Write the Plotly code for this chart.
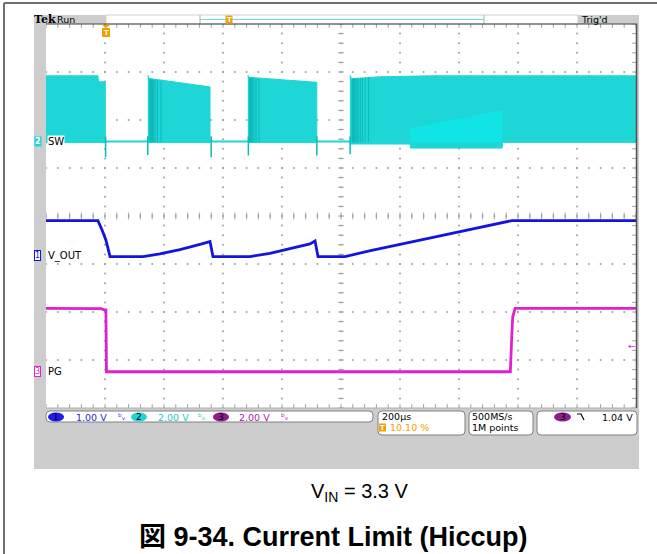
import plotly.graph_objects as go

W, H = 657, 554

# ---------------- acquisition settings ----------------
T_START, T_END = -200, 1800          # µs, 200 µs/div, trigger at 10.10 %
CH1_SCALE, CH1_POS = 1.0, -0.81      # V_OUT  (V/div, position in div)
CH2_SCALE, CH2_POS = 2.0, 1.56       # SW
CH3_SCALE, CH3_POS = 2.0, -3.23      # PG
TRIG_LEVEL = 1.04                    # V on CH3

# ---------------- V_OUT (CH1) ----------------
VOUT_T = [-200, -24, -10, 3, 17, 129, 186, 254, 322, 356, 366, 491, 559, 627, 695, 712, 722, 814, 900, 1100, 1300, 1380, 1800]
VOUT_V = [0.715, 0.715, 0.52, 0.31, -0.035, -0.035, 0.02, 0.11, 0.22, 0.277, -0.035, -0.035, 0.03, 0.13, 0.23, 0.29, -0.035, -0.035, 0.09, 0.35, 0.61, 0.715, 0.715]

# ---------------- PG (CH3) ----------------
PG_T = [-200, -13, -3, 3, 5, 1374, 1378, 1382, 1390, 1800]
PG_V = [2.61, 2.60, 2.55, 2.55, -0.03, -0.03, 1.2, 2.25, 2.61, 2.61]

# ---------------- SW (CH2) switching bursts: envelopes ----------------
SW_HI_T = [[-200, -24, -22, 1], [145, 150, 356], [484, 488, 718], [830, 836, 930, 1100, 1800]]
SW_HI_V = [[2.72, 2.72, 2.47, 2.47], [2.75, 2.61, 2.26], [2.75, 2.66, 2.45], [2.75, 2.60, 2.68, 2.72, 2.72]]
SW_LO_T = [[-200, 1], [145, 356], [484, 718], [830, 1034, 1036, 1346, 1348, 1800]]
SW_LO_V = [[-0.06, -0.06], [-0.06, -0.06], [-0.06, -0.06], [-0.12, -0.12, -0.29, -0.29, -0.05, -0.05]]
SW_SPIKE_T = [2, 145, 360, 486, 718, 831]
SW_SPIKE_LOW = [-0.67, -0.58, -0.67, -0.60, -0.60, -0.55]
SW_STRIPE_T = [152, 155, 158, 161, 165, 170, 178, 190,
               490, 493, 496, 500, 505, 512, 522,
               838, 841, 844, 847, 851, 855, 860, 866, 873, 882, 893]
SW_STRIPE_TOP = [2.58, 2.58, 2.57, 2.57, 2.56, 2.55, 2.54, 2.52,
                 2.64, 2.64, 2.63, 2.63, 2.62, 2.62, 2.61,
                 2.60, 2.60, 2.60, 2.61, 2.61, 2.62, 2.62, 2.63, 2.64, 2.65, 2.66]
SW_BRIGHT_T = [1034, 1346]
SW_BRIGHT_TOP = [0.55, 1.29]
SW_BRIGHT_BOT = [-0.05, -0.05]

CYAN = '#1ED6D6'
BLUE = '#1414E0'
MAG = '#E020D0'
ORANGE = '#F2A000'


def ch(vals, scale, pos):
    return [v / scale + pos for v in vals]


def X(p):
    return p / W


def Y(p):
    return 1 - p / H


fig = go.Figure()

# ---------- graticule dots ----------
gx, gy = [], []
for i in range(1, 10):
    t = T_START + 200 * i
    for k in range(41):
        gx.append(t); gy.append(-4 + 0.2 * k)
for j in range(1, 8):
    yv = -4 + j
    for k in range(51):
        gx.append(T_START + 40 * k); gy.append(yv)
fig.add_trace(go.Scatter(x=gx, y=gy, mode='markers', marker=dict(size=2, color='#A0A0A0'),
                         hoverinfo='skip'))

# ticks on centre lines and edges
tx, ty = [], []
for k in range(51):
    t = T_START + 40 * k
    tx += [t, t, None]; ty += [-0.07, 0.07, None]
    tx += [t, t, None]; ty += [4, 3.92, None]
    tx += [t, t, None]; ty += [-4, -3.92, None]
for k in range(41):
    yv = -4 + 0.2 * k
    tx += [790, 810, None]; ty += [yv, yv, None]
    tx += [T_END, T_END - 13, None]; ty += [yv, yv, None]
fig.add_trace(go.Scatter(x=tx, y=ty, mode='lines', line=dict(color='#A0A0A0', width=1),
                         hoverinfo='skip'))

# ---------- SW ----------
fig.add_trace(go.Scatter(x=[T_START, T_END], y=ch([-0.02, -0.02], CH2_SCALE, CH2_POS), mode='lines',
                         line=dict(color=CYAN, width=2), hoverinfo='skip'))
for ht, hv, lt, lv in zip(SW_HI_T, SW_HI_V, SW_LO_T, SW_LO_V):
    xs = list(ht) + list(reversed(lt))
    ys = ch(list(hv) + list(reversed(lv)), CH2_SCALE, CH2_POS)
    fig.add_trace(go.Scatter(x=xs, y=ys, mode='lines', fill='toself', fillcolor=CYAN,
                             line=dict(color=CYAN, width=1), hoverinfo='skip'))
bx = SW_BRIGHT_T + list(reversed(SW_BRIGHT_T))
by = ch(SW_BRIGHT_TOP + list(reversed(SW_BRIGHT_BOT)), CH2_SCALE, CH2_POS)
fig.add_trace(go.Scatter(x=bx, y=by, mode='lines', fill='toself', fillcolor='#10E4E4',
                         line=dict(width=0, color='#10E4E4'), hoverinfo='skip'))
sx, sy = [], []
for t, top in zip(SW_STRIPE_T, SW_STRIPE_TOP):
    sx += [t, t, None]; sy += ch([top, -0.05], CH2_SCALE, CH2_POS) + [None]
fig.add_trace(go.Scatter(x=sx, y=sy, mode='lines', line=dict(color='rgba(0,150,150,0.45)', width=1),
                         hoverinfo='skip'))
kx, ky = [], []
for t, lo in zip(SW_SPIKE_T, SW_SPIKE_LOW):
    kx += [t, t, None]; ky += ch([0.2, lo], CH2_SCALE, CH2_POS) + [None]
fig.add_trace(go.Scatter(x=kx, y=ky, mode='lines', line=dict(color='#10B8B8', width=1.5),
                         hoverinfo='skip'))

# ---------- V_OUT ----------
fig.add_trace(go.Scatter(x=VOUT_T, y=ch(VOUT_V, CH1_SCALE, CH1_POS), mode='lines',
                         line=dict(color=BLUE, width=2.8), hoverinfo='skip'))
# ---------- PG ----------
fig.add_trace(go.Scatter(x=PG_T, y=ch(PG_V, CH3_SCALE, CH3_POS), mode='lines',
                         line=dict(color=MAG, width=2.8), hoverinfo='skip'))

shapes = []
# outer frame
shapes.append(dict(type='line', xref='paper', yref='paper', x0=X(4), x1=X(657), y0=Y(3), y1=Y(3),
                   line=dict(color='#707070', width=2)))
shapes.append(dict(type='line', xref='paper', yref='paper', x0=X(4), x1=X(4), y0=Y(3), y1=Y(554),
                   line=dict(color='#707070', width=2)))
# scope screen background
shapes.append(dict(type='rect', xref='paper', yref='paper', x0=X(34), x1=X(639), y0=Y(15), y1=Y(469),
                   fillcolor='#CDCDCD', line=dict(width=0), layer='below'))
shapes.append(dict(type='rect', xref='paper', yref='paper', x0=X(46), x1=X(636), y0=Y(24), y1=Y(408),
                   fillcolor='white', line=dict(width=0), layer='below'))
# top bar
shapes.append(dict(type='rect', xref='paper', yref='paper', x0=X(106), x1=X(578), y0=Y(15), y1=Y(24),
                   fillcolor='white', line=dict(color='#D0D0D0', width=1), layer='below'))
for xx in (200, 484):
    shapes.append(dict(type='line', xref='paper', yref='paper', x0=X(xx), x1=X(xx), y0=Y(15), y1=Y(24),
                       line=dict(color='#B0B0B0', width=1)))
shapes.append(dict(type='line', xref='paper', yref='paper', x0=X(200), x1=X(484), y0=Y(19.5), y1=Y(19.5),
                   line=dict(color='#6ADCDC', width=1.2)))
# graticule border
shapes.append(dict(type='line', xref='paper', yref='paper', x0=X(46), x1=X(637), y0=Y(24), y1=Y(24),
                   line=dict(color='#404040', width=1.2)))
shapes.append(dict(type='line', xref='paper', yref='paper', x0=X(636.5), x1=X(636.5), y0=Y(24), y1=Y(408),
                   line=dict(color='#505050', width=1.5)))
shapes.append(dict(type='line', xref='paper', yref='paper', x0=X(46), x1=X(636), y0=Y(408), y1=Y(408),
                   line=dict(color='#B0B0B0', width=1)))


def rrect(x0, y0, x1, y1, r=4, fill='white', line='#808080'):
    p = (f"M {X(x0+r)},{Y(y0)} L {X(x1-r)},{Y(y0)} Q {X(x1)},{Y(y0)} {X(x1)},{Y(y0+r)} "
         f"L {X(x1)},{Y(y1-r)} Q {X(x1)},{Y(y1)} {X(x1-r)},{Y(y1)} L {X(x0+r)},{Y(y1)} "
         f"Q {X(x0)},{Y(y1)} {X(x0)},{Y(y1-r)} L {X(x0)},{Y(y0+r)} Q {X(x0)},{Y(y0)} {X(x0+r)},{Y(y0)} Z")
    return dict(type='path', xref='paper', yref='paper', path=p, fillcolor=fill,
                line=dict(color=line, width=1))


shapes += [rrect(46, 411, 373, 422), rrect(378, 411, 465, 435), rrect(469, 411, 533, 435),
           rrect(537, 411, 637, 435)]


def ell(x0, x1, y0, y1, col):
    return dict(type='circle', xref='paper', yref='paper', x0=X(x0), x1=X(x1), y0=Y(y0), y1=Y(y1),
                fillcolor=col, line=dict(width=0))


shapes += [ell(48, 64, 412.5, 421.5, '#1E1EE6'), ell(131, 147, 412.5, 421.5, '#22D4D4'),
           ell(213, 229, 412.5, 421.5, '#8E1C8E'), ell(554, 571, 412.5, 421.5, '#8E1C8E')]
# falling-edge trigger symbol
shapes.append(dict(type='path', xref='paper', yref='paper',
                   path=f"M {X(577)},{Y(414)} L {X(581)},{Y(414)} L {X(584)},{Y(420)}",
                   line=dict(color='black', width=1.2)))
# trigger T marker at top of graticule
shapes.append(dict(type='path', xref='paper', yref='paper',
                   path=f"M {X(102)},{Y(25)} L {X(110)},{Y(25)} L {X(106)},{Y(28)} Z",
                   fillcolor=ORANGE, line=dict(width=0)))
shapes.append(dict(type='rect', xref='paper', yref='paper', x0=X(102), x1=X(110), y0=Y(28), y1=Y(37),
                   fillcolor=ORANGE, line=dict(width=0)))
shapes.append(dict(type='rect', xref='paper', yref='paper', x0=X(225.5), x1=X(232.5), y0=Y(15.5), y1=Y(23.5),
                   fillcolor=ORANGE, line=dict(width=0)))
shapes.append(dict(type='rect', xref='paper', yref='paper', x0=X(379), x1=X(386), y0=Y(423.5), y1=Y(431.5),
                   fillcolor=ORANGE, line=dict(width=0)))

ann = []


def txt(x, y, s, size=9.5, color='black', anchor='left', family='DejaVu Sans', bg=None, border=None):
    d = dict(xref='paper', yref='paper', x=X(x), y=Y(y), text=s, showarrow=False, xanchor=anchor,
             yanchor='middle', font=dict(size=size, color=color, family=family), borderpad=0)
    if bg:
        d['bgcolor'] = bg
    if border:
        d['bordercolor'] = border
        d['borderwidth'] = 1
    ann.append(d)


txt(33, 19, '<b>Tek</b>', size=11, family='DejaVu Serif')
txt(56, 19, 'Run', size=9.5)
txt(580, 19, "Trig'd", size=9.5)
txt(106, 33, '<b>T</b>', size=7, color='white', anchor='center')
txt(229, 19.5, '<b>T</b>', size=7, color='white', anchor='center')

# channel markers
txt(34, 141, '<b>2</b>', size=8, color='white', bg=CYAN)
txt(47, 141, 'SW', size=10, bg='white')
txt(34, 255.5, '1', size=8, color=BLUE, bg='white', border=BLUE)
txt(47, 255.5, 'V_OUT', size=10, bg='white')
txt(34, 371, '3', size=8, color=MAG, bg='white', border=MAG)
txt(47, 371, 'PG', size=10, bg='white')
trig_y = 216 - (TRIG_LEVEL / CH3_SCALE + CH3_POS) * 48
txt(637, trig_y, '←', size=9, color=MAG, anchor='right')

# status bar
txt(56, 417, '1', size=9, color='#000040', anchor='center')
txt(75, 417, '1.00 V', size=9.5, color='#2A2AD2')
txt(122, 417, 'ᵇᵥ', size=9, color='#3A3AD8', anchor='center')
txt(139, 417, '2', size=9, color='black', anchor='center')
txt(157, 417, '2.00 V', size=9.5, color='#22C8C8')
txt(202, 417, 'ᵇᵥ', size=9, color='#22C8C8', anchor='center')
txt(221, 417, '3', size=9, color='black', anchor='center')
txt(238, 417, '2.00 V', size=9.5, color='#B020B0')
txt(285, 417, 'ᵇᵥ', size=9, color='#B020B0', anchor='center')
txt(381, 416.5, '200µs', size=9.5)
txt(382.5, 427.5, '<b>T</b>', size=7, color='white', anchor='center')
txt(389, 427.5, '10.10 %', size=9.5, color=ORANGE)
txt(471, 416.5, '500MS/s', size=9.5)
txt(471, 427.5, '1M points', size=9.5)
txt(562.5, 417, '3', size=9, color='black', anchor='center')
txt(634, 417, '1.04 V', size=9.5, anchor='right')

# captions
txt(359, 492, 'V<sub>IN</sub> = 3.3 V', size=20, family='Liberation Sans, Arial', anchor='center')
txt(333, 537, '<b>図 9-34. Current Limit (Hiccup)</b>', size=27,
    family='Liberation Sans, Arial, Noto Sans CJK JP', anchor='center')

fig.update_layout(
    width=W, height=H, margin=dict(l=0, r=0, t=0, b=0),
    paper_bgcolor='white', plot_bgcolor='rgba(0,0,0,0)', showlegend=False,
    xaxis=dict(range=[T_START, T_END], domain=[46 / W, 636 / W], visible=False, fixedrange=True),
    yaxis=dict(range=[-4, 4], domain=[1 - 408 / H, 1 - 24 / H], visible=False, fixedrange=True),
    shapes=shapes, annotations=ann,
)
fig.write_html('out.html', config={'displayModeBar': False},
               post_script="document.body.style.margin='0';document.body.style.overflow='hidden';")
